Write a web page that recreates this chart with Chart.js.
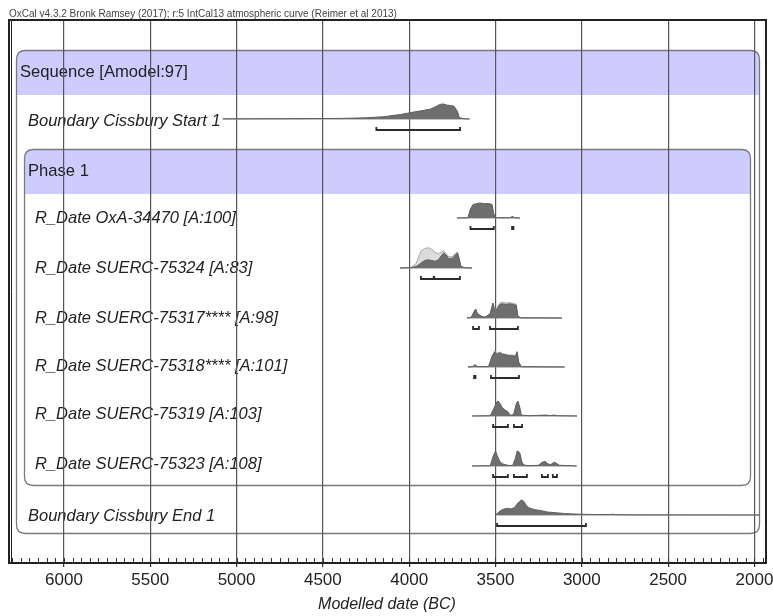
<!DOCTYPE html>
<html>
<head>
<meta charset="utf-8">
<script src="https://cdn.jsdelivr.net/npm/chart.js@4/dist/chart.umd.min.js"></script>
<style>
html,body{margin:0;padding:0;background:#fff;}
canvas{display:block;}
</style>
</head>
<body>
<canvas id="c" width="773" height="616"></canvas>
<script>
// ---------- DATA (years BC, relative probability) ----------
const headerText = "OxCal v4.3.2 Bronk Ramsey (2017); r:5 IntCal13 atmospheric curve (Reimer et al 2013)";
const axisTitle = "Modelled date (BC)";
const tickYears = [6000, 5500, 5000, 4500, 4000, 3500, 3000, 2500, 2000];
const sequenceLabel = "Sequence [Amodel:97]";
const phaseLabel = "Phase 1";

const rowLabels = [
  "Boundary Cissbury Start 1",
  "R_Date OxA-34470 [A:100]",
  "R_Date SUERC-75324 [A:83]",
  "R_Date SUERC-75317**** [A:98]",
  "R_Date SUERC-75318**** [A:101]",
  "R_Date SUERC-75319 [A:103]",
  "R_Date SUERC-75323 [A:108]",
  "Boundary Cissbury End 1"
];

const startYears = [5080, 4700, 4400, 4250, 4150, 4050, 3980, 3930, 3880, 3850, 3820, 3800, 3780, 3760, 3740, 3720, 3710, 3690, 3650];
const startProb  = [0.01, 0.02, 0.04, 0.08, 0.15, 0.30, 0.45, 0.55, 0.65, 0.80, 0.98, 1.00, 0.92, 0.90, 0.85, 0.50, 0.10, 0.03, 0];
const startRanges = [[4190, 3705]];

const oxaYears = [3723, 3660, 3645, 3630, 3610, 3590, 3560, 3540, 3520, 3510, 3500, 3420, 3405, 3400, 3392, 3358];
const oxaProb  = [0, 0.02, 0.60, 0.90, 0.95, 1.00, 0.95, 0.97, 0.90, 0.30, 0.02, 0.01, 0.08, 0.12, 0.02, 0];
const oxaRanges = [[3645, 3510], [3404, 3396]];

const s324Years = [4053, 3990, 3960, 3940, 3930, 3910, 3890, 3870, 3850, 3830, 3815, 3800, 3785, 3770, 3750, 3730, 3720, 3710, 3700, 3680, 3636];
const s324Prob  = [0, 0.02, 0.10, 0.25, 0.35, 0.50, 0.55, 0.50, 0.45, 0.55, 0.80, 1.00, 0.85, 0.60, 0.65, 0.90, 1.00, 0.60, 0.10, 0.02, 0];
const s324Prior = [0, 0.03, 0.30, 0.90, 1.15, 1.30, 1.35, 1.25, 1.05, 0.95, 1.05, 1.15, 0.95, 0.75, 0.75, 1.00, 1.05, 0.60, 0.10, 0.02, 0];
const s324Ranges = [[3932, 3858], [3855, 3706]];

const s317Years = [3665, 3640, 3625, 3615, 3605, 3580, 3560, 3530, 3515, 3505, 3490, 3475, 3460, 3440, 3420, 3400, 3380, 3370, 3350, 3115];
const s317Prob  = [0, 0.05, 0.40, 0.60, 0.30, 0.10, 0.05, 0.30, 1.00, 0.50, 0.60, 0.90, 0.95, 0.90, 0.95, 0.90, 0.85, 0.10, 0.01, 0];
const s317Prior = [0, 0.05, 0.40, 0.60, 0.30, 0.10, 0.05, 0.30, 1.00, 0.55, 0.70, 1.00, 1.05, 1.00, 1.02, 0.98, 0.92, 0.10, 0.01, 0];
const s317Ranges = [[3630, 3596], [3532, 3370]];

const s318Years = [3659, 3630, 3620, 3605, 3540, 3520, 3505, 3490, 3475, 3460, 3440, 3420, 3400, 3385, 3375, 3365, 3350, 3100];
const s318Prob  = [0, 0.03, 0.15, 0.03, 0.02, 0.70, 1.00, 0.85, 0.95, 0.85, 0.80, 0.75, 0.75, 0.70, 1.00, 0.30, 0.02, 0];
const s318Prior = [0, 0.03, 0.15, 0.03, 0.02, 0.75, 1.05, 0.92, 1.00, 0.90, 0.85, 0.80, 0.80, 0.75, 1.05, 0.30, 0.02, 0];
const s318Ranges = [[3624, 3616], [3526, 3364]];

const s319Years = [3636, 3530, 3510, 3495, 3485, 3475, 3460, 3445, 3430, 3415, 3395, 3380, 3370, 3360, 3350, 3300, 3215, 3205, 3190, 3165, 3155, 3140, 3028];
const s319Prob  = [0, 0.02, 0.50, 0.90, 1.00, 0.85, 0.55, 0.40, 0.30, 0.05, 0.10, 0.80, 1.00, 0.60, 0.05, 0.02, 0.06, 0.07, 0.02, 0.06, 0.05, 0.02, 0];
const s319Ranges = [[3514, 3428], [3393, 3346]];

const s323Years = [3636, 3530, 3515, 3500, 3490, 3475, 3460, 3440, 3420, 3400, 3385, 3375, 3360, 3345, 3330, 3300, 3250, 3230, 3210, 3200, 3180, 3160, 3150, 3130, 3030];
const s323Prob  = [0, 0.02, 0.60, 1.00, 0.70, 0.30, 0.15, 0.08, 0.03, 0.05, 0.50, 1.00, 0.90, 0.20, 0.05, 0.02, 0.05, 0.25, 0.30, 0.15, 0.10, 0.25, 0.20, 0.05, 0];
const s323Ranges = [[3514, 3428], [3393, 3318], [3231, 3196], [3168, 3144]];

const endYears = [3503, 3490, 3470, 3450, 3430, 3410, 3390, 3370, 3350, 3335, 3320, 3300, 3270, 3240, 3200, 3150, 3100, 3050, 3000, 2900, 2830, 2820, 2810, 2700, 2400, 1968];
const endProb  = [0, 0.10, 0.30, 0.40, 0.45, 0.40, 0.50, 0.80, 1.00, 0.90, 0.60, 0.45, 0.35, 0.30, 0.20, 0.15, 0.10, 0.07, 0.05, 0.03, 0.03, 0.06, 0.02, 0.01, 0.005, 0];
const endRanges = [[3491, 2976]];

// ---------- LAYOUT (page pixels, not data) ----------
const AXIS_MIN = 1933, AXIS_MAX = 6324;
const PLOT_TOP = 20;
const rowBase  = [119, 218, 268, 318, 367, 416, 466, 515];   // distribution baselines
const rowTextY = [121, 218, 268, 318, 366, 414, 464, 516];
const rowTextX = [28, 35, 35, 35, 35, 35, 35, 28];
const PEAK_H = 15;
const BRACKET_DY = 11;
const FONT = "'Liberation Sans', Arial, sans-serif";

const rows = [
  {years: startYears, prob: startProb, ranges: startRanges},
  {years: oxaYears, prob: oxaProb, ranges: oxaRanges},
  {years: s324Years, prob: s324Prob, prior: s324Prior, ranges: s324Ranges},
  {years: s317Years, prob: s317Prob, prior: s317Prior, ranges: s317Ranges},
  {years: s318Years, prob: s318Prob, prior: s318Prior, ranges: s318Ranges},
  {years: s319Years, prob: s319Prob, ranges: s319Ranges},
  {years: s323Years, prob: s323Prob, ranges: s323Ranges},
  {years: endYears, prob: endProb, ranges: endRanges}
];

const rel = v => v - PLOT_TOP; // page y -> y scale units

const datasets = [];
rows.forEach((r, i) => {
  const base = rel(rowBase[i]);
  const bd = [];
  const by = base + BRACKET_DY;
  r.ranges.forEach(([a, b]) => {
    bd.push({x: a, y: by - 3}, {x: a, y: by}, {x: b, y: by}, {x: b, y: by - 3}, {x: b, y: null});
  });
  datasets.push({data: bd, borderColor: '#2b2b2b', borderWidth: 1.8, fill: false, order: 0, spanGaps: false});
  datasets.push({
    data: r.years.map((y, k) => ({x: y, y: base - r.prob[k] * PEAK_H})),
    borderColor: '#5f5f5f', backgroundColor: '#6e6e6e', borderWidth: 1,
    fill: {value: base}, order: 1
  });
  if (r.prior) {
    datasets.push({
      data: r.years.map((y, k) => ({x: y, y: base - r.prior[k] * PEAK_H})),
      borderColor: '#a8a8a8', backgroundColor: '#dcdcdc', borderWidth: 1,
      fill: {value: base}, order: 2
    });
  }
  datasets.push({
    data: [{x: r.years[0], y: base}, {x: r.years[r.years.length - 1], y: base}],
    borderColor: '#8a8a8a', borderWidth: 1, fill: false, order: 3
  });
});

function roundRect(ctx, x, y, w, h, r) {
  ctx.beginPath();
  ctx.moveTo(x + r, y);
  ctx.lineTo(x + w - r, y);
  ctx.quadraticCurveTo(x + w, y, x + w, y + r);
  ctx.lineTo(x + w, y + h - r);
  ctx.quadraticCurveTo(x + w, y + h, x + w - r, y + h);
  ctx.lineTo(x + r, y + h);
  ctx.quadraticCurveTo(x, y + h, x, y + h - r);
  ctx.lineTo(x, y + r);
  ctx.quadraticCurveTo(x, y, x + r, y);
  ctx.closePath();
}

function drawBox(ctx, x1, y1, x2, y2, bandBottom) {
  ctx.save();
  roundRect(ctx, x1, y1, x2 - x1, y2 - y1, 9);
  ctx.clip();
  ctx.fillStyle = '#ccccff';
  ctx.fillRect(x1, y1, x2 - x1, bandBottom - y1);
  ctx.restore();
  ctx.save();
  roundRect(ctx, x1, y1, x2 - x1, y2 - y1, 9);
  ctx.strokeStyle = '#7a7a7a';
  ctx.lineWidth = 1.3;
  ctx.stroke();
  ctx.restore();
}

const boxesPlugin = {
  id: 'boxes',
  beforeDraw(chart) {
    const ctx = chart.ctx;
    ctx.save();
    ctx.fillStyle = '#fff';
    ctx.fillRect(0, 0, chart.width, chart.height);
    ctx.restore();
    drawBox(ctx, 16.5, 50.5, 759.5, 533.5, 95);
    drawBox(ctx, 24.5, 149.5, 750.5, 485.5, 194);
    ctx.save();
    ctx.fillStyle = '#222';
    ctx.textBaseline = 'middle';
    ctx.font = "16.6px " + FONT;
    ctx.fillText(sequenceLabel, 20, 72);
    ctx.fillText(phaseLabel, 28, 171);
    ctx.font = "italic 16.5px " + FONT;
    rowLabels.forEach((t, i) => ctx.fillText(t, rowTextX[i], rowTextY[i]));
    ctx.font = "10px " + FONT;
    ctx.fillStyle = '#444';
    ctx.textBaseline = 'alphabetic';
    ctx.fillText(headerText, 9, 17);
    ctx.restore();
  },
  afterDraw(chart) {
    const ctx = chart.ctx;
    const a = chart.chartArea;
    const xs = chart.scales.x;
    ctx.save();
    ctx.strokeStyle = '#333';
    ctx.lineWidth = 1;
    for (let yr = 1950; yr <= 6300; yr += 50) {
      const px = Math.round(xs.getPixelForValue(yr)) + 0.5;
      ctx.beginPath();
      ctx.moveTo(px, a.bottom);
      ctx.lineTo(px, a.bottom - 5);
      ctx.stroke();
    }
    ctx.strokeStyle = '#222';
    ctx.lineWidth = 2;
    ctx.strokeRect(a.left + 1, a.top, a.right - a.left - 1, a.bottom - a.top);
    ctx.beginPath();
    ctx.lineWidth = 1;
    ctx.moveTo(a.left + 3.5, a.top);
    ctx.lineTo(a.left + 3.5, a.bottom);
    ctx.stroke();
    ctx.restore();
  }
};

new Chart(document.getElementById('c'), {
  type: 'line',
  data: {datasets},
  options: {
    responsive: false,
    animation: false,
    devicePixelRatio: 1,
    elements: {point: {radius: 0}, line: {tension: 0}},
    layout: {padding: {left: 8, right: 7, top: PLOT_TOP, bottom: 0}},
    plugins: {legend: {display: false}, tooltip: {enabled: false}},
    scales: {
      x: {
        type: 'linear',
        reverse: true,
        min: AXIS_MIN,
        max: AXIS_MAX,
        afterBuildTicks(scale) { scale.ticks = tickYears.map(v => ({value: v})); },
        afterFit(scale) { scale.height = 53; scale.paddingLeft = 0; scale.paddingRight = 0; },
        border: {display: false},
        grid: {color: '#555', lineWidth: 1.2, drawTicks: true, tickLength: 4, tickColor: '#333'},
        ticks: {
          color: '#222',
          font: {size: 17, family: FONT},
          padding: 3,
          maxRotation: 0,
          autoSkip: false,
          callback: v => String(v)
        },
        title: {
          display: true,
          text: axisTitle,
          color: '#222',
          font: {size: 16, style: 'italic', family: FONT},
          padding: {top: 0, bottom: 2}
        }
      },
      y: {
        type: 'linear',
        display: false,
        reverse: true,
        min: 0,
        max: 543
      }
    }
  },
  plugins: [boxesPlugin]
});
</script>
</body>
</html>
